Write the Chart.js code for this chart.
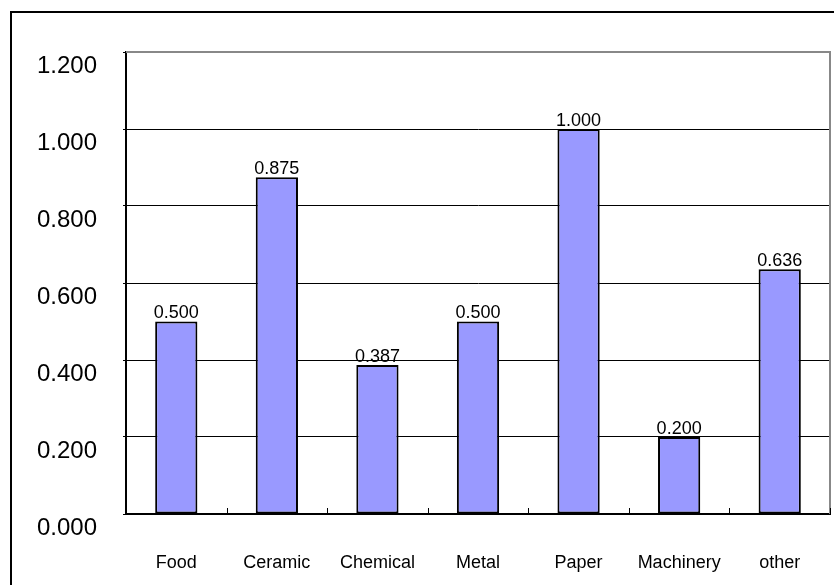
<!DOCTYPE html>
<html>
<head>
<meta charset="utf-8">
<script src="https://cdn.jsdelivr.net/npm/chart.js@4.4.0/dist/chart.umd.min.js"></script>
<style>
  html, body { margin: 0; padding: 0; background: #fff; }
  #wrap { width: 834px; height: 585px; }
</style>
</head>
<body>
<div id="wrap"><canvas id="myChart" width="834" height="585"></canvas></div>
<script>
// categories and values
const categories = ['Food', 'Ceramic', 'Chemical', 'Metal', 'Paper', 'Machinery', 'other'];
const values = [0.500, 0.875, 0.387, 0.500, 1.000, 0.200, 0.636];
const yTicks = [0, 0.2, 0.4, 0.6, 0.8, 1.0, 1.2];

const FONT = "'Liberation Sans', Arial, sans-serif";

// outer frame, gray top/right edge, small category ticks, value labels
const decorations = {
    id: 'decorations',
    beforeDraw(chart) {
        const ctx = chart.ctx;
        ctx.save();
        ctx.fillStyle = '#fff';
        ctx.fillRect(0, 0, chart.width, chart.height);
        ctx.strokeStyle = '#000';
        ctx.lineWidth = 2;
        ctx.beginPath();
        ctx.moveTo(11, chart.height + 5);
        ctx.lineTo(11, 12);
        ctx.lineTo(chart.width + 5, 12);
        ctx.stroke();
        ctx.restore();
    },
    afterDatasetsDraw(chart) {
        const ctx = chart.ctx;
        const area = chart.chartArea;
        ctx.save();
        // gray top and right edge of the plot
        ctx.strokeStyle = '#888';
        ctx.lineWidth = 2;
        ctx.beginPath();
        ctx.moveTo(area.left, area.top);
        ctx.lineTo(area.right, area.top);
        ctx.lineTo(area.right, area.bottom);
        ctx.stroke();
        // short ticks between categories
        ctx.strokeStyle = '#000';
        ctx.lineWidth = 1;
        const step = (area.right - area.left) / categories.length;
        for (let i = 1; i <= categories.length; i++) {
            const px = Math.round(area.left + step * i) + 0.5;
            ctx.beginPath();
            ctx.moveTo(px, area.bottom);
            ctx.lineTo(px, area.bottom - 6);
            ctx.stroke();
        }
        // value labels
        ctx.fillStyle = '#000';
        ctx.font = '18px ' + FONT;
        ctx.textAlign = 'center';
        ctx.textBaseline = 'bottom';
        const meta = chart.getDatasetMeta(0);
        meta.data.forEach((bar, i) => {
            ctx.fillText(values[i].toFixed(3), bar.x, bar.y + 1);
        });
        ctx.restore();
    }
};

const myChart = document.getElementById('myChart');

let barChart = new Chart(myChart, {
    type: 'bar',
    data: {
        labels: categories,
        datasets: [{
            data: values,
            backgroundColor: '#9999FF',
            borderColor: '#000',
            borderWidth: 2,
            borderSkipped: false,
            barPercentage: 0.42,
            categoryPercentage: 1.0
        }]
    },
    options: {
        responsive: false,
        animation: false,
        devicePixelRatio: 1,
        layout: { padding: { left: 0, top: 52, right: 4, bottom: 0 } },
        plugins: {
            legend: { display: false },
            tooltip: { enabled: false }
        },
        scales: {
            x: {
                afterFit(scale) { scale.height = 71; },
                grid: { display: false },
                border: { display: true, color: '#000', width: 2 },
                ticks: {
                    color: '#000',
                    font: { family: FONT, size: 18 },
                    padding: 30,
                    maxRotation: 0,
                    autoSkip: false
                }
            },
            y: {
                min: 0,
                max: 1.2,
                afterFit(scale) { scale.width = 126; },
                afterBuildTicks(scale) {
                    scale.ticks = yTicks.map(v => ({ value: v }));
                },
                grid: {
                    color: '#000',
                    lineWidth: 1,
                    tickLength: 3
                },
                border: { display: true, color: '#000', width: 2 },
                ticks: {
                    color: '#000',
                    font: { family: FONT, size: 24 },
                    padding: 26,
                    labelOffset: 14,
                    callback: v => Number(v).toFixed(3)
                }
            }
        }
    },
    plugins: [decorations]
});
</script>
</body>
</html>
